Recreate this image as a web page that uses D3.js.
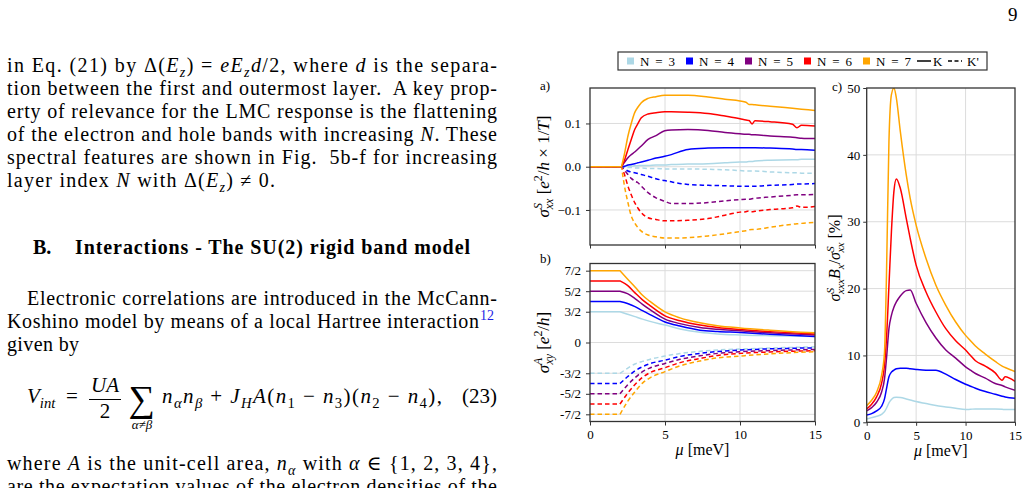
<!DOCTYPE html>
<html>
<head>
<meta charset="utf-8">
<script src="https://cdn.jsdelivr.net/npm/d3@7"></script>
<style>
body { margin: 0; background: #fff; }
svg { display: block; }
text { font-family: "Liberation Serif", "DejaVu Serif", serif; fill: #000; white-space: pre; }
</style>
</head>
<body>
<svg id="page" width="1029" height="488"></svg>
<script>
// ---- data ----
var nLabels = ["N = 3", "N = 4", "N = 5", "N = 6", "N = 7"];
var nColors = ["#add8e6", "#0000ff", "#800080", "#ff0000", "#ffa500"];

// a) sigma^S_xx, K (solid) and K' (dashed), one row per N
var muA = [0, 2.1, 2.3, 2.53, 2.75, 2.98, 3.2, 3.42, 3.87, 4.4, 4.98, 5.42, 6.53, 7.87, 9, 10, 10.4, 10.6, 10.8, 11, 12, 13.5, 13.8, 14.1, 15];
var sxxK = [
  [0, 0, 0.0005, 0.001, 0.0015, 0.002, 0.0025, 0.003, 0.003, 0.004, 0.004, 0.005, 0.006, 0.007, 0.009, 0.011, 0.011, 0.012, 0.012, 0.013, 0.015, 0.016, 0.016, 0.017, 0.017],
  [0, 0, 0.001, 0.004, 0.005, 0.007, 0.009, 0.011, 0.015, 0.02, 0.024, 0.028, 0.04, 0.043, 0.044, 0.044, 0.044, 0.044, 0.044, 0.044, 0.043, 0.041, 0.04, 0.04, 0.038],
  [0, 0, 0.01, 0.021, 0.028, 0.034, 0.041, 0.048, 0.063, 0.072, 0.083, 0.085, 0.086, 0.084, 0.079, 0.076, 0.075, 0.075, 0.074, 0.074, 0.071, 0.068, 0.067, 0.066, 0.065],
  [0, 0, 0.015, 0.04, 0.063, 0.086, 0.1, 0.113, 0.122, 0.125, 0.127, 0.127, 0.126, 0.123, 0.117, 0.111, 0.108, 0.107, 0.099, 0.106, 0.104, 0.098, 0.09, 0.096, 0.094],
  [0, 0, 0.03, 0.071, 0.1, 0.125, 0.138, 0.148, 0.158, 0.162, 0.165, 0.165, 0.165, 0.161, 0.156, 0.152, 0.149, 0.144, 0.144, 0.143, 0.14, 0.135, 0.134, 0.133, 0.13]
];
var sxxKp = [
  [0, 0, -0.001, -0.002, -0.002, -0.003, -0.003, -0.003, -0.004, -0.004, -0.005, -0.005, -0.005, -0.006, -0.007, -0.009, -0.01, -0.01, -0.01, -0.01, -0.012, -0.014, -0.014, -0.015, -0.015],
  [0, 0, -0.004, -0.01, -0.012, -0.014, -0.016, -0.018, -0.022, -0.028, -0.032, -0.035, -0.041, -0.043, -0.044, -0.045, -0.045, -0.045, -0.045, -0.045, -0.043, -0.041, -0.04, -0.04, -0.039],
  [0, 0, -0.008, -0.018, -0.027, -0.033, -0.037, -0.045, -0.06, -0.072, -0.08, -0.085, -0.085, -0.083, -0.079, -0.076, -0.075, -0.075, -0.074, -0.073, -0.07, -0.066, -0.065, -0.065, -0.064],
  [0, 0, -0.018, -0.045, -0.065, -0.083, -0.096, -0.106, -0.118, -0.122, -0.125, -0.125, -0.124, -0.12, -0.112, -0.105, -0.104, -0.102, -0.104, -0.103, -0.099, -0.095, -0.091, -0.094, -0.092],
  [0, 0, -0.045, -0.083, -0.114, -0.13, -0.141, -0.149, -0.158, -0.162, -0.165, -0.165, -0.164, -0.16, -0.155, -0.15, -0.148, -0.146, -0.145, -0.145, -0.14, -0.133, -0.132, -0.131, -0.129]
];

// b) sigma^A_xy
var muB = [0, 2, 2.5, 3, 3.5, 4, 5, 6, 7.33, 8.5, 10, 12, 15];
var sxyK = [
  [1.5, 1.5, 1.38, 1.26, 1.14, 1.03, 0.85, 0.66, 0.5, 0.42, 0.37, 0.33, 0.29],
  [2.0, 2.0, 1.9, 1.75, 1.55, 1.36, 1.0, 0.8, 0.6, 0.54, 0.49, 0.4, 0.29],
  [2.5, 2.5, 2.38, 2.14, 1.86, 1.6, 1.14, 0.92, 0.73, 0.64, 0.57, 0.47, 0.36],
  [3.0, 3.0, 2.78, 2.42, 2.08, 1.8, 1.3, 1.06, 0.85, 0.73, 0.63, 0.53, 0.41],
  [3.5, 3.5, 3.1, 2.71, 2.3, 2.0, 1.49, 1.2, 0.96, 0.82, 0.71, 0.6, 0.47]
];
var sxyKp = [
  [-1.5, -1.5, -1.26, -1.05, -0.92, -0.82, -0.66, -0.54, -0.43, -0.36, -0.32, -0.27, -0.21],
  [-2.0, -2.0, -1.67, -1.38, -1.18, -1.03, -0.86, -0.68, -0.53, -0.44, -0.37, -0.31, -0.26],
  [-2.5, -2.5, -2.07, -1.72, -1.42, -1.24, -1.02, -0.82, -0.65, -0.53, -0.45, -0.39, -0.34],
  [-3.0, -3.0, -2.48, -2.05, -1.7, -1.47, -1.23, -0.98, -0.78, -0.63, -0.53, -0.46, -0.4],
  [-3.5, -3.5, -2.88, -2.4, -1.98, -1.72, -1.42, -1.14, -0.9, -0.75, -0.66, -0.55, -0.45]
];
var bTickVals = [-3.5, -2.5, -1.5, 0, 1.5, 2.5, 3.5];
var bTickLabels = ["-7/2", "-5/2", "-3/2", "0", "3/2", "5/2", "7/2"];

// c) sigma^S_xxx B_x / sigma^S_xx in %
var muC = [0, 0.5, 1, 1.5, 1.8, 2.0, 2.25, 2.5, 2.75, 3.0, 3.4, 4.0, 4.4, 5, 6, 7, 8, 9, 10, 10.5, 11, 12, 13, 13.7, 14, 15];
var ratio = [
  [0.5, 0.7, 0.9, 1.2, 1.6, 2.1, 2.9, 3.4, 3.7, 3.75, 3.7, 3.5, 3.35, 3.1, 2.8, 2.5, 2.3, 2.1, 1.9, 1.95, 2.0, 2.0, 2.0, 1.95, 1.9, 1.9],
  [1.1, 1.3, 1.7, 2.4, 3.5, 5.0, 6.8, 7.5, 7.8, 8.0, 8.1, 8.1, 8.0, 7.9, 7.8, 7.8, 7.2, 6.4, 5.7, 5.4, 5.1, 4.6, 4.2, 3.9, 3.8, 3.6],
  [1.7, 2.2, 3.0, 4.5, 6.5, 9.5, 14.0, 16.0, 17.2, 18.0, 18.9, 19.7, 19.8, 17.8, 14.9, 12.6, 10.8, 9.6, 8.3, 7.8, 7.3, 6.6, 5.8, 5.5, 5.3, 4.8],
  [2.0, 2.7, 3.8, 5.8, 8.5, 12.5, 20.4, 28.5, 34.5, 36.4, 35, 30.5, 27.5, 23.5, 19.5, 16.5, 14, 12.2, 10.8, 10.0, 9.2, 8.4, 7.4, 6.3, 6.8, 6.1],
  [2.5, 3.3, 4.5, 7.0, 10.5, 22, 42, 49, 50, 48.5, 43.5, 37, 33.5, 29.5, 24.5, 20.5, 17.5, 15, 13, 12.2, 11.4, 10.2, 9.1, 8.4, 8.2, 7.6]
];

var xTickVals = [0, 5, 10, 15];

// ---- page ----
var svg = d3.select("#page");
var BODY = 20;

// text with italic / sub / sup pieces
function rich(g, x, y, size, segs) {
  var t = g.append("text").attr("x", x).attr("y", y).style("font-size", size + "px");
  var shift = 0;
  segs.forEach(function(s) {
    if (typeof s === "string") s = {t: s};
    var target = s.sub ? size * 0.24 : (s.sup ? -size * 0.4 : 0);
    var sp = t.append("tspan").text(s.t);
    if (target !== shift) { sp.attr("dy", target - shift); shift = target; }
    if (s.dx) sp.attr("dx", s.dx);
    if (s.sub || s.sup) sp.style("font-size", (size * 0.7) + "px");
    if (s.i) sp.style("font-style", "italic");
    if (s.b) sp.style("font-weight", "bold");
    if (s.c) sp.style("fill", s.c);
  });
  return t;
}
function justify(t, len) {
  t.attr("textLength", len).attr("lengthAdjust", "spacing");
}

var body = svg.append("g");
svg.append("text").attr("x", 1008).attr("y", 21).style("font-size", "19px").text("9");

justify(rich(body, 7, 72, BODY, ["in Eq. (21) by Δ(", {t: "E", i: 1}, {t: "z", i: 1, sub: 1}, ") = ", {t: "eE", i: 1}, {t: "z", i: 1, sub: 1}, {t: "d", i: 1}, "/2, where ", {t: "d", i: 1}, " is the separa-"]), 490);
justify(rich(body, 7, 95, BODY, ["tion between the first and outermost layer.  A key prop-"]), 490);
justify(rich(body, 7, 118, BODY, ["erty of relevance for the LMC response is the flattening"]), 490);
justify(rich(body, 7, 141, BODY, ["of the electron and hole bands with increasing ", {t: "N", i: 1}, ". These"]), 490);
justify(rich(body, 7, 164, BODY, ["spectral features are shown in Fig.  5b-f for increasing"]), 490);
justify(rich(body, 7, 187, BODY, ["layer index ", {t: "N", i: 1}, " with Δ(", {t: "E", i: 1}, {t: "z", i: 1, sub: 1}, ") ≠ 0."]), 268);

rich(body, 33, 254, BODY, [{t: "B.", b: 1}]);
justify(rich(body, 75, 254, BODY, [{t: "Interactions - The SU(2) rigid band model", b: 1}]), 395);

justify(rich(body, 27, 305, BODY, ["Electronic correlations are introduced in the McCann-"]), 470);
justify(rich(body, 7, 328, BODY, ["Koshino model by means of a local Hartree interaction"]), 472);
body.append("text").attr("x", 480).attr("y", 320).style("font-size", "14px").style("fill", "#1f1fe6").text("12");
justify(rich(body, 7, 351, BODY, ["given by"]), 72);

// equation (23)
rich(body, 27, 403, BODY + 1, [{t: "V", i: 1}, {t: "int", i: 1, sub: 1}]);
body.append("text").attr("x", 66).attr("y", 403).style("font-size", (BODY + 1) + "px").text("=");
body.append("text").attr("x", 105).attr("y", 392).attr("text-anchor", "middle").style("font-size", (BODY + 1) + "px").style("font-style", "italic").text("UA");
body.append("line").attr("x1", 89).attr("x2", 121).attr("y1", 399.5).attr("y2", 399.5).attr("stroke", "#000").attr("stroke-width", 1);
body.append("text").attr("x", 105).attr("y", 418).attr("text-anchor", "middle").style("font-size", (BODY + 1) + "px").text("2");
body.append("text").attr("x", 141.5).attr("y", 411).attr("text-anchor", "middle").style("font-size", "37px").text("∑");
body.append("text").attr("x", 142).attr("y", 429).attr("text-anchor", "middle").style("font-size", "13px").style("font-style", "italic").text("α≠β");
justify(rich(body, 162, 403, BODY + 1, [{t: "n", i: 1}, {t: "α", i: 1, sub: 1}, {t: "n", i: 1}, {t: "β", i: 1, sub: 1}, " + ", {t: "J", i: 1}, {t: "H", i: 1, sub: 1}, {t: "A", i: 1}, "(", {t: "n", i: 1}, {t: "1", sub: 1}, " − ", {t: "n", i: 1}, {t: "3", sub: 1}, ")(", {t: "n", i: 1}, {t: "2", sub: 1}, " − ", {t: "n", i: 1}, {t: "4", sub: 1}, "),"]), 280);
body.append("text").attr("x", 497).attr("y", 403).attr("text-anchor", "end").style("font-size", (BODY + 1) + "px").text("(23)");

justify(rich(body, 7, 470, BODY, ["where ", {t: "A", i: 1}, " is the unit-cell area, ", {t: "n", i: 1}, {t: "α", i: 1, sub: 1}, " with ", {t: "α", i: 1}, " ∈ {1, 2, 3, 4},"]), 490);
justify(rich(body, 7, 493, BODY, ["are the expectation values of the electron densities of the"]), 490);

// ---- figure ----
var fig = svg.append("g");
var FRAME = "#333";
var GRID = "#dcdcdc";
var TICKFONT = "13px";

var xa = d3.scaleLinear().domain([0, 15]).range([590, 815]);
var ya = d3.scaleLinear().domain([-0.181, 0.182]).range([245, 88]);
var yb = d3.scaleLinear().domain([-3.85, 3.85]).range([421.5, 263.5]);
var xc = d3.scaleLinear().domain([0, 15]).range([866.7, 1015]);
var yc = d3.scaleLinear().domain([0, 50]).range([422.3, 88]);

function pathFrom(mu, vals, xs, ys, kink) {
  var pts = mu.map(function(m, i) { return [xs(m), ys(vals[i])]; });
  if (kink == null) return d3.line().curve(d3.curveMonotoneX)(pts);
  var head = d3.line()(pts.slice(0, kink + 1));
  var tail = d3.line().curve(d3.curveMonotoneX)(pts.slice(kink));
  return head + "L" + tail.slice(1);
}

function panel(id, xs, ys, yGrid) {
  var x0 = xs.range()[0], x1 = xs.range()[1], y0 = ys.range()[1], y1 = ys.range()[0];
  var g = fig.append("g");
  g.append("clipPath").attr("id", id).append("rect")
    .attr("x", x0).attr("y", y0).attr("width", x1 - x0).attr("height", y1 - y0);
  g.append("g").selectAll("line.vx").data([5, 10]).enter().append("line")
    .attr("x1", xs).attr("x2", xs).attr("y1", y0).attr("y2", y1)
    .attr("stroke", GRID).attr("stroke-width", 1);
  g.append("g").selectAll("line.hy").data(yGrid).enter().append("line")
    .attr("x1", x0).attr("x2", x1).attr("y1", ys).attr("y2", ys)
    .attr("stroke", GRID).attr("stroke-width", 1);
  var plot = g.append("g").attr("clip-path", "url(#" + id + ")");
  return {g: g, plot: plot, box: [x0, y0, x1, y1]};
}

function frame(p) {
  var b = p.box;
  p.g.append("rect").attr("x", b[0]).attr("y", b[1]).attr("width", b[2] - b[0]).attr("height", b[3] - b[1])
    .attr("fill", "none").attr("stroke", FRAME).attr("stroke-width", 1.3);
}

function styleAxis(sel) {
  sel.select(".domain").remove();
  sel.selectAll(".tick line").attr("stroke", FRAME).attr("stroke-width", 1);
  sel.selectAll(".tick text").style("font-size", TICKFONT).style("font-family", "Liberation Serif, DejaVu Serif, serif");
}

function drawSeries(p, mu, rows, xs, ys, dashed, kink) {
  p.plot.selectAll(null).data(rows).enter().append("path")
    .attr("d", function(r) { return pathFrom(mu, r, xs, ys, kink); })
    .attr("fill", "none")
    .attr("stroke", function(r, i) { return nColors[i]; })
    .attr("stroke-width", 1.5)
    .attr("stroke-dasharray", dashed ? "4.5,3" : null);
}

// panel a
var pa = panel("clipA", xa, ya, [-0.1, 0, 0.1]);
drawSeries(pa, muA, sxxKp, xa, ya, true, 1);
drawSeries(pa, muA, sxxK, xa, ya, false, 1);
frame(pa);
pa.g.append("g").attr("transform", "translate(590,0)")
  .call(d3.axisLeft(ya).tickValues([-0.1, 0, 0.1]).tickSize(4).tickPadding(5)
    .tickFormat(function(d) { return d === 0 ? "0.0" : (d < 0 ? "−" : "") + Math.abs(d).toFixed(1); }))
  .call(styleAxis);
pa.g.append("g").attr("transform", "translate(0,245)")
  .call(d3.axisBottom(xa).tickValues(xTickVals).tickSize(3.5).tickFormat(""))
  .call(styleAxis);

// panel b
var pb = panel("clipB", xa, yb, bTickVals);
drawSeries(pb, muB, sxyKp, xa, yb, true, 1);
drawSeries(pb, muB, sxyK, xa, yb, false, 1);
frame(pb);
pb.g.append("g").attr("transform", "translate(590,0)")
  .call(d3.axisLeft(yb).tickValues(bTickVals).tickSize(4).tickPadding(5)
    .tickFormat(function(d, i) { return bTickLabels[i]; }))
  .call(styleAxis);
pb.g.append("g").attr("transform", "translate(0,421.5)")
  .call(d3.axisBottom(xa).tickValues(xTickVals).tickSize(4).tickPadding(4).tickFormat(d3.format("d")))
  .call(styleAxis);

// panel c
var pc = panel("clipC", xc, yc, [10, 20, 30, 40]);
drawSeries(pc, muC, ratio, xc, yc, false, null);
frame(pc);
pc.g.append("g").attr("transform", "translate(866.7,0)")
  .call(d3.axisLeft(yc).tickValues([0, 10, 20, 30, 40, 50]).tickSize(3.5).tickPadding(3).tickFormat(d3.format("d")))
  .call(styleAxis);
pc.g.append("g").attr("transform", "translate(0,422.3)")
  .call(d3.axisBottom(xc).tickValues(xTickVals).tickSize(3.5).tickPadding(5).tickFormat(d3.format("d")))
  .call(styleAxis);

// panel letters
fig.append("text").attr("x", 540).attr("y", 90).style("font-size", "13px").text("a)");
fig.append("text").attr("x", 540).attr("y", 263).style("font-size", "13px").text("b)");
fig.append("text").attr("x", 832).attr("y", 91).style("font-size", "13px").text("c)");

// axis labels
function yLabel(x, y, size, segs) {
  var g = fig.append("g").attr("transform", "translate(" + x + "," + y + ") rotate(-90)");
  return rich(g, 0, 0, size, segs).attr("text-anchor", "middle");
}
yLabel(549, 166.5, 17, [{t: "σ", i: 1}, {t: "S", i: 1, sup: 1}, {t: "xx", i: 1, sub: 1, dx: -6}, " [", {t: "e", i: 1}, {t: "2", sup: 1}, "/", {t: "h", i: 1}, " × 1/", {t: "T", i: 1}, "]"]);
yLabel(549, 342.5, 17, [{t: "σ", i: 1}, {t: "A", i: 1, sup: 1}, {t: "xy", i: 1, sub: 1, dx: -7}, " [", {t: "e", i: 1}, {t: "2", sup: 1}, "/", {t: "h", i: 1}, "]"]);
yLabel(840, 258, 16, [{t: "σ", i: 1}, {t: "S", i: 1, sup: 1}, {t: "xxx", i: 1, sub: 1, dx: -6}, {t: "B", i: 1}, {t: "x", i: 1, sub: 1}, "/", {t: "σ", i: 1}, {t: "S", i: 1, sup: 1}, {t: "xx", i: 1, sub: 1, dx: -6}, " [%]"]);

rich(fig, 702.5, 455, 16, [{t: "μ", i: 1}, " [meV]"]).attr("text-anchor", "middle");
rich(fig, 940.8, 456, 16, [{t: "μ", i: 1}, " [meV]"]).attr("text-anchor", "middle");

// legend
var leg = fig.append("g");
leg.append("rect").attr("x", 618).attr("y", 52).attr("width", 369).attr("height", 18)
  .attr("fill", "#fff").attr("stroke", FRAME).attr("stroke-width", 1.2);
var step = 59;
leg.selectAll("rect.sw").data(nColors).enter().append("rect")
  .attr("x", function(d, i) { return 627 + i * step; }).attr("y", 57.5)
  .attr("width", 7).attr("height", 7).attr("fill", function(d) { return d; });
leg.selectAll("text.lab").data(nLabels).enter().append("text")
  .attr("x", function(d, i) { return 640 + i * step; }).attr("y", 65.5)
  .attr("textLength", 35).attr("lengthAdjust", "spacing")
  .style("font-size", "13px").text(function(d) { return d; });
var kx = 640 + 5 * step - 18;
leg.append("line").attr("x1", kx).attr("x2", kx + 14).attr("y1", 61).attr("y2", 61).attr("stroke", "#000").attr("stroke-width", 1.5);
leg.append("text").attr("x", kx + 16).attr("y", 65.5).style("font-size", "13px").text("K");
leg.append("line").attr("x1", kx + 31).attr("x2", kx + 45).attr("y1", 61).attr("y2", 61).attr("stroke", "#000").attr("stroke-width", 1.5).attr("stroke-dasharray", "4,2.5");
leg.append("text").attr("x", kx + 50).attr("y", 65.5).style("font-size", "13px").text("K'");
</script>
</body>
</html>
